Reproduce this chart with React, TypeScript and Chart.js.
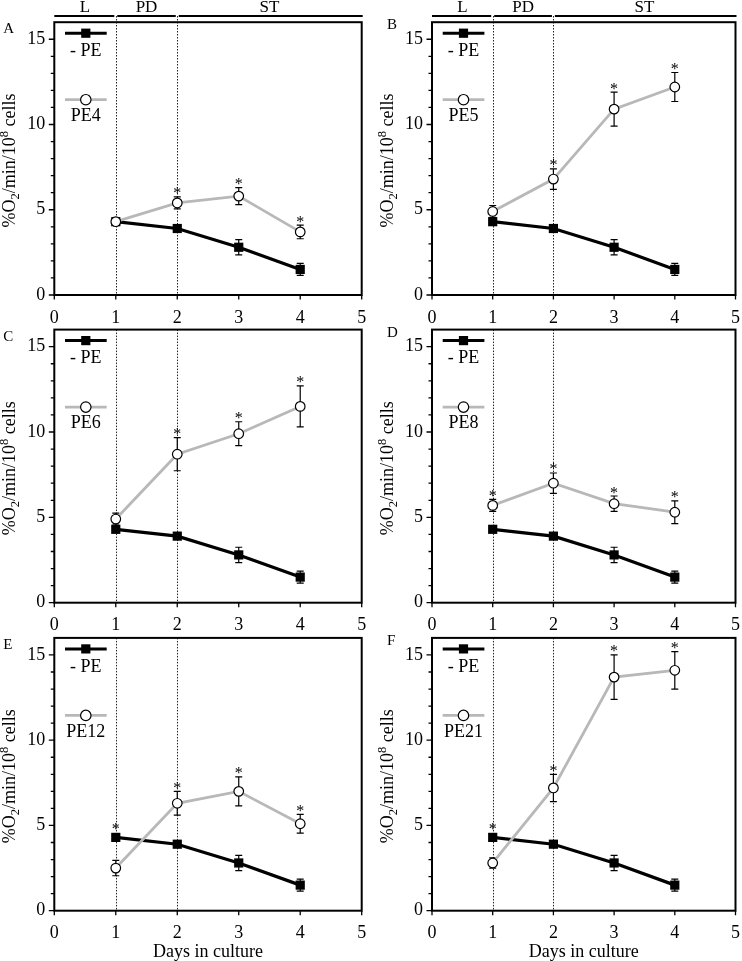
import React, { useEffect, useRef } from 'react';
import { Chart, registerables } from 'chart.js';

Chart.register(...registerables);

// ---------- data ----------
const days = [1, 2, 3, 4];
const xTickValues = [0, 1, 2, 3, 4, 5];
const yTickLabels = [0, 5, 10, 15];
const yMinorTicks = [0, 1, 2, 3, 4, 5, 6, 7, 8, 9, 10, 11, 12, 13, 14, 15];
const yMax = 16;

const controlLabel = '- PE';
const controlMean = [4.3, 3.9, 2.8, 1.5];
const controlErr = [0.15, 0.15, 0.45, 0.35];

const pe4Mean = [4.3, 5.4, 5.8, 3.7];
const pe4Err = [0.15, 0.35, 0.5, 0.4];
const pe4Sig = [false, true, true, true];

const pe5Mean = [4.9, 6.8, 10.9, 12.2];
const pe5Err = [0.35, 0.6, 1.0, 0.85];
const pe5Sig = [false, true, true, true];

const pe6Mean = [4.9, 8.7, 9.9, 11.5];
const pe6Err = [0.35, 0.97, 0.7, 1.2];
const pe6Sig = [false, true, true, true];

const pe8Mean = [5.7, 7.0, 5.8, 5.3];
const pe8Err = [0.35, 0.6, 0.45, 0.67];
const pe8Sig = [true, true, true, true];

const pe12Mean = [2.5, 6.3, 7.0, 5.1];
const pe12Err = [0.45, 0.7, 0.85, 0.55];
const pe12Sig = [true, true, true, true];

const pe21Mean = [2.8, 7.2, 13.7, 14.1];
const pe21Err = [0.3, 0.8, 1.3, 1.1];
const pe21Sig = [true, true, true, true];

const panelLetters = ['A', 'B', 'C', 'D', 'E', 'F'];
const peLabels = ['PE4', 'PE5', 'PE6', 'PE8', 'PE12', 'PE21'];
const peMeans = [pe4Mean, pe5Mean, pe6Mean, pe8Mean, pe12Mean, pe21Mean];
const peErrs = [pe4Err, pe5Err, pe6Err, pe8Err, pe12Err, pe21Err];
const peSigs = [pe4Sig, pe5Sig, pe6Sig, pe8Sig, pe12Sig, pe21Sig];

const phaseLabels = ['L', 'PD', 'ST'];
const phaseEdges = [0, 1, 2, 5];
const phaseLines = [1, 2];
const xTitle = 'Days in culture';

// ---------- style / layout ----------
const SERIF = '"Liberation Serif", "Times New Roman", serif';
const GRAY = '#b8b8b8';
const FS = 18;

const cols = [
  { canvasLeft: 0, chartLeft: 54.3, chartRight: 361.7, letterDx: -51, letterDy: 11 },
  { canvasLeft: 371, chartLeft: 432, chartRight: 738.7, letterDx: -45, letterDy: 7 },
];
const rows = [
  { canvasTop: 0, chartTop: 22.2, chartBottom: 295, height: 330, header: true, title: false },
  { canvasTop: 308, chartTop: 329.6, chartBottom: 602.7, height: 330, header: false, title: false },
  { canvasTop: 616, chartTop: 637.9, chartBottom: 910.7, height: 345, header: false, title: true },
];
const CW = 371;

function drawYTitle(ctx: CanvasRenderingContext2D, cx: number, cy: number) {
  const parts = [
    { t: '%O', s: FS, dy: 0 },
    { t: '2', s: 12.5, dy: 4 },
    { t: '/min/10', s: FS, dy: 0 },
    { t: '8', s: 12.5, dy: -7 },
    { t: ' cells', s: FS, dy: 0 },
  ];
  ctx.save();
  ctx.translate(cx, cy);
  ctx.rotate(-Math.PI / 2);
  ctx.fillStyle = '#000';
  ctx.textBaseline = 'alphabetic';
  ctx.textAlign = 'left';
  let total = 0;
  for (const p of parts) {
    ctx.font = `${p.s}px ${SERIF}`;
    total += ctx.measureText(p.t).width;
  }
  let x = -total / 2;
  for (const p of parts) {
    ctx.font = `${p.s}px ${SERIF}`;
    ctx.fillText(p.t, x, 5.5 + p.dy);
    x += ctx.measureText(p.t).width;
  }
  ctx.restore();
}

function makeConfig(idx: number) {
  const col = cols[idx % 2];
  const row = rows[Math.floor(idx / 2)];
  const mean = peMeans[idx];
  const err = peErrs[idx];
  const sig = peSigs[idx];
  const yAxisWidth = col.chartLeft - col.canvasLeft;
  const xAxisHeight = row.height - (row.chartBottom - row.canvasTop);
  const padTop = row.chartTop - row.canvasTop;
  const padRight = CW - (col.chartRight - col.canvasLeft);
  const headerY = 16 - row.canvasTop;
  const markerR = 4.8;

  const drawErr = (ctx: CanvasRenderingContext2D, xs: any, ys: any, m: number[], e: number[]) => {
    ctx.strokeStyle = '#000';
    ctx.lineWidth = 1.2;
    m.forEach((v, i) => {
      const x = xs.getPixelForValue(days[i]);
      const y1 = ys.getPixelForValue(v + e[i]);
      const y2 = ys.getPixelForValue(v - e[i]);
      ctx.beginPath();
      ctx.moveTo(x, y1); ctx.lineTo(x, y2);
      ctx.moveTo(x - 3.5, y1); ctx.lineTo(x + 3.5, y1);
      ctx.moveTo(x - 3.5, y2); ctx.lineTo(x + 3.5, y2);
      ctx.stroke();
    });
  };

  const plugin = {
    id: 'panelDecor' + idx,
    beforeDatasetsDraw(chart: any) {
      const ctx = chart.ctx as CanvasRenderingContext2D;
      const { top, bottom } = chart.chartArea;
      const xs = chart.scales.x, ys = chart.scales.y;
      ctx.save();
      ctx.strokeStyle = '#222';
      ctx.lineWidth = 1;
      ctx.setLineDash([1.5, 1.5]);
      for (const v of phaseLines) {
        const x = Math.round(xs.getPixelForValue(v)) + 0.5;
        ctx.beginPath();
        ctx.moveTo(x, row.header ? headerY : top);
        ctx.lineTo(x, bottom);
        ctx.stroke();
      }
      ctx.setLineDash([]);
      drawErr(ctx, xs, ys, controlMean, controlErr);
      drawErr(ctx, xs, ys, mean, err);
      ctx.restore();
    },
    afterDatasetsDraw(chart: any) {
      const ctx = chart.ctx as CanvasRenderingContext2D;
      const { left, right, top, bottom } = chart.chartArea;
      const xs = chart.scales.x, ys = chart.scales.y;
      ctx.save();
      // frame
      ctx.strokeStyle = '#000';
      ctx.lineWidth = 2;
      ctx.strokeRect(left, top, right - left, bottom - top);
      // ticks
      ctx.lineWidth = 1.3;
      ctx.beginPath();
      for (const v of yMinorTicks) {
        const y = ys.getPixelForValue(v);
        const len = v % 5 === 0 ? 5.5 : 3.5;
        ctx.moveTo(left - len, y); ctx.lineTo(left, y);
      }
      for (const v of xTickValues) {
        const x = xs.getPixelForValue(v);
        ctx.moveTo(x, bottom); ctx.lineTo(x, bottom + 4.5);
      }
      ctx.stroke();

      // asterisks
      ctx.fillStyle = '#000';
      ctx.font = `16px ${SERIF}`;
      ctx.textAlign = 'center';
      ctx.textBaseline = 'alphabetic';
      sig.forEach((s, i) => {
        if (!s) return;
        const x = xs.getPixelForValue(days[i]);
        const tops = [
          ys.getPixelForValue(mean[i] + err[i]),
          ys.getPixelForValue(mean[i]) - markerR,
          ys.getPixelForValue(controlMean[i] + controlErr[i]),
          ys.getPixelForValue(controlMean[i]) - markerR,
        ];
        const t = Math.min(...tops);
        ctx.fillText('*', x, t + 1.5);
      });

      // legend
      const lx = left + 31.5;
      const ly1 = top + 11;
      const ly2 = top + 77.5;
      ctx.lineWidth = 3;
      ctx.strokeStyle = '#000';
      ctx.beginPath(); ctx.moveTo(left + 10.7, ly1); ctx.lineTo(left + 52.4, ly1); ctx.stroke();
      ctx.fillStyle = '#000';
      ctx.fillRect(lx - 4.6, ly1 - 4.6, 9.2, 9.2);
      ctx.strokeStyle = GRAY;
      ctx.lineWidth = 2.8;
      ctx.beginPath(); ctx.moveTo(left + 10.7, ly2); ctx.lineTo(left + 52.4, ly2); ctx.stroke();
      ctx.beginPath(); ctx.arc(lx, ly2, 5.2, 0, Math.PI * 2);
      ctx.fillStyle = '#fff'; ctx.fill();
      ctx.lineWidth = 1.2; ctx.strokeStyle = '#000'; ctx.stroke();
      ctx.fillStyle = '#000';
      ctx.font = `${FS}px ${SERIF}`;
      ctx.textAlign = 'center';
      ctx.textBaseline = 'middle';
      ctx.fillText(controlLabel, lx, top + 29);
      ctx.fillText(peLabels[idx], lx, top + 94);

      // header
      if (row.header) {
        ctx.lineWidth = 2.2;
        ctx.strokeStyle = '#000';
        for (let k = 0; k < phaseLabels.length; k++) {
          const a = xs.getPixelForValue(phaseEdges[k]) + (k === 0 ? 0 : 1.5);
          const b = xs.getPixelForValue(phaseEdges[k + 1]) + (k === phaseLabels.length - 1 ? 1 : -1.5);
          ctx.beginPath(); ctx.moveTo(a, headerY); ctx.lineTo(b, headerY); ctx.stroke();
          const mid = xs.getPixelForValue((phaseEdges[k] + phaseEdges[k + 1]) / 2);
          ctx.font = `17px ${SERIF}`;
          ctx.textBaseline = 'alphabetic';
          ctx.fillText(phaseLabels[k], mid, headerY - 4);
        }
      }

      // panel letter
      ctx.font = `15px ${SERIF}`;
      ctx.textAlign = 'left';
      ctx.textBaseline = 'alphabetic';
      ctx.fillText(panelLetters[idx], left + col.letterDx, top + col.letterDy);

      // y title
      drawYTitle(ctx, left - 44.5, (top + bottom) / 2 + 2);

      // x title
      if (row.title) {
        ctx.font = `${FS}px ${SERIF}`;
        ctx.textAlign = 'center';
        ctx.textBaseline = 'middle';
        ctx.fillText(xTitle, (left + right) / 2, bottom + 42);
      }
      ctx.restore();
    },
  };

  const zeroPad = (s: any) => {
    s.paddingLeft = 0; s.paddingRight = 0; s.paddingTop = 0; s.paddingBottom = 0;
  };

  return {
    type: 'line' as const,
    data: {
      datasets: [
        {
          label: peLabels[idx],
          data: days.map((d, i) => ({ x: d, y: mean[i] })),
          borderColor: GRAY,
          borderWidth: 2.8,
          pointStyle: 'circle',
          pointRadius: markerR,
          pointBackgroundColor: '#fff',
          pointBorderColor: '#000',
          pointBorderWidth: 1.2,
          order: 0,
          clip: false,
        },
        {
          label: controlLabel,
          data: days.map((d, i) => ({ x: d, y: controlMean[i] })),
          borderColor: '#000',
          borderWidth: 3.2,
          pointStyle: 'rect',
          pointRadius: 6.5,
          pointBackgroundColor: '#000',
          pointBorderColor: '#000',
          pointBorderWidth: 0,
          order: 1,
          clip: false,
        },
      ],
    },
    options: {
      responsive: false,
      maintainAspectRatio: false,
      animation: false,
      events: [],
      layout: { padding: { left: 0, top: padTop, right: padRight, bottom: 0 } },
      plugins: { legend: { display: false }, tooltip: { enabled: false }, title: { display: false } },
      scales: {
        x: {
          type: 'linear',
          min: 0,
          max: 5,
          afterBuildTicks: (s: any) => { s.ticks = xTickValues.map((v) => ({ value: v })); },
          ticks: { font: { family: SERIF, size: FS }, color: '#000', padding: 12, maxRotation: 0, autoSkip: false },
          grid: { display: false, drawTicks: false },
          border: { display: false },
          afterFit: (s: any) => { s.height = xAxisHeight; zeroPad(s); },
        },
        y: {
          type: 'linear',
          min: 0,
          max: yMax,
          afterBuildTicks: (s: any) => { s.ticks = yTickLabels.map((v) => ({ value: v })); },
          ticks: { font: { family: SERIF, size: FS }, color: '#000', padding: 9, autoSkip: false },
          grid: { display: false, drawTicks: false },
          border: { display: false },
          afterFit: (s: any) => { s.width = yAxisWidth; zeroPad(s); },
        },
      },
    },
    plugins: [plugin],
  };
}

function Panel({ idx }: { idx: number }) {
  const ref = useRef<HTMLCanvasElement>(null);
  const col = cols[idx % 2];
  const row = rows[Math.floor(idx / 2)];
  useEffect(() => {
    const chart = new Chart(ref.current as HTMLCanvasElement, makeConfig(idx) as any);
    return () => chart.destroy();
  }, [idx]);
  return (
    <canvas
      ref={ref}
      width={CW}
      height={row.height}
      style={{ position: 'absolute', left: col.canvasLeft, top: row.canvasTop, width: CW, height: row.height }}
    />
  );
}

export default function App() {
  return (
    <div style={{ position: 'absolute', left: 0, top: 0, width: 742, height: 961, background: '#fff', overflow: 'hidden' }}>
      {panelLetters.map((_, i) => (
        <Panel key={i} idx={i} />
      ))}
    </div>
  );
}
